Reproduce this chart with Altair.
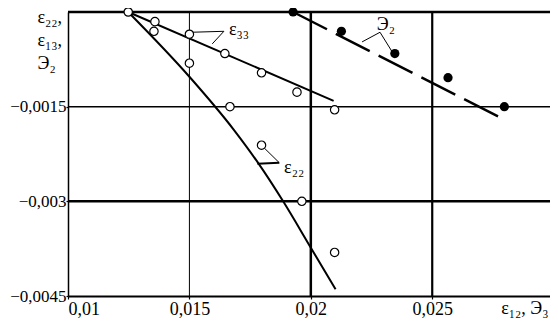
import altair as alt
import pandas as pd

# ---- data ----
# open circles, epsilon_33 series (first point shared with epsilon_22)
e33_x = [0.01248, 0.01358, 0.01500, 0.01646, 0.01797, 0.01943, 0.02098]
e33_y = [0.0, -0.000153, -0.000352, -0.000658, -0.000964, -0.00127, -0.00155]
# open circles, epsilon_22 series
e22_x = [0.01354, 0.01500, 0.01667, 0.01797, 0.01963, 0.02098]
e22_y = [-0.000306, -0.000811, -0.0015, -0.00211, -0.003, -0.00381]
# filled circles, E2 series
E2_x = [0.01927, 0.02126, 0.02346, 0.02565, 0.02797]
E2_y = [0.0, -0.000306, -0.000658, -0.00104, -0.0015]

# fitted curves
e33_fit_x = [0.01248, 0.02094]
e33_fit_y = [0.0, -0.001408]
e22_fit_x = [0.01248, 0.01500, 0.01683, 0.01785, 0.01886, 0.02000, 0.02102]
e22_fit_y = [0.0, -0.001026, -0.001867, -0.002403, -0.003000, -0.003735, -0.004393]
E2_fit_x = [0.01927, 0.02801]
E2_fit_y = [0.0, -0.001714]

# annotation leaders (polyline vertices) and labels
lead_e33_x = [0.01500, 0.01642, 0.01594]
lead_e33_y = [-0.000322, -0.000306, -0.000505]
lead_e22a_x = [0.01809, 0.01870]
lead_e22a_y = [-0.002158, -0.002388]
lead_e22b_x = [0.01780, 0.01870]
lead_e22b_y = [-0.002403, -0.002388]
lead_E2_x = [0.02211, 0.02285, 0.02337]
lead_E2_y = [-0.000474, -0.000321, -0.000643]
labels = ["ε₃₃", "ε₂₂", "Э₂"]
label_x = [0.01663, 0.01890, 0.02272]
label_y = [-0.000291, -0.002464, -0.000199]

# grid / frame
vgrid_x = [0.015, 0.02, 0.025]
vgrid_w = [1.0, 2.5, 2.2]
hgrid_y = [0.0, -0.0015, -0.003]
hgrid_w = [2.5, 1.5, 2.5]

x_ticks = [0.01, 0.015, 0.02, 0.025]
y_ticks = [-0.0015, -0.003, -0.0045]

FONT = "Liberation Serif, Times New Roman, serif"

xs = alt.Scale(domain=[0.01, 0.02985], nice=False, zero=False)
ys = alt.Scale(domain=[-0.0045, 0.0], nice=False, zero=False)

x_axis = alt.Axis(
    values=x_ticks, grid=False, tickSize=3, tickWidth=1.2, tickColor="black",
    domainColor="black", domainWidth=2, labelPadding=1,
    labelExpr="replace(format(datum.value, '.3~f'), '.', ',')",
    labelFlush=True, labelFontSize=18, labelColor="black", labelFont=FONT,
    title="ε₁₂, Э₃", titleFontSize=18, titleFontWeight="normal", titleFont=FONT,
    titleAlign="right", titleBaseline="alphabetic", titleX=480, titleY=17,
    titleColor="black")
y_axis = alt.Axis(
    values=y_ticks, grid=False, tickSize=2, tickWidth=1.2, tickColor="black",
    domainColor="black", domainWidth=1.5, labelPadding=0,
    labelExpr="replace(format(datum.value, '.4~f'), '.', ',')",
    labelFontSize=17, labelColor="black", labelFont=FONT,
    title=["ε₂₂,", "ε₁₃,", "Э₂"], titleAngle=0, titleAlign="left",
    titleBaseline="top", titleX=-31, titleY=-4, titleFontSize=18,
    titleLineHeight=23, titleFontWeight="normal", titleFont=FONT,
    titleColor="black")

X = alt.X("x:Q", scale=xs, axis=x_axis)
Y = alt.Y("y:Q", scale=ys, axis=y_axis)

def df(xv, yv, **extra):
    d = pd.DataFrame({"x": xv, "y": yv})
    for k, v in extra.items():
        d[k] = v
    return d

vgrid = alt.Chart(pd.DataFrame({"x": vgrid_x, "w": vgrid_w})).mark_rule(color="black").encode(
    x=X, strokeWidth=alt.StrokeWidth("w:Q", scale=None))
hgrid = alt.Chart(pd.DataFrame({"y": hgrid_y, "w": hgrid_w})).mark_rule(color="black").encode(
    y=Y, strokeWidth=alt.StrokeWidth("w:Q", scale=None))

line_e33 = alt.Chart(df(e33_fit_x, e33_fit_y)).mark_line(color="black", strokeWidth=2).encode(x=X, y=Y)
line_e22 = alt.Chart(df(e22_fit_x, e22_fit_y)).mark_line(color="black", strokeWidth=2, interpolate="monotone").encode(x=X, y=Y)
line_E2 = alt.Chart(df(E2_fit_x, E2_fit_y)).mark_line(color="black", strokeWidth=2.5, strokeDash=[38, 10]).encode(x=X, y=Y)

def leader(xv, yv, w=1.0):
    d = df(xv, yv, o=list(range(len(xv))))
    return alt.Chart(d).mark_line(color="black", strokeWidth=w).encode(x=X, y=Y, order="o:Q")

leaders = (leader(lead_e33_x, lead_e33_y) + leader(lead_e22a_x, lead_e22a_y)
           + leader(lead_e22b_x, lead_e22b_y, 2.0) + leader(lead_E2_x, lead_E2_y))

open_pts = alt.Chart(df(e33_x + e22_x, e33_y + e22_y)).mark_point(
    shape="circle", filled=False, color="black", fill="white", fillOpacity=1,
    strokeWidth=1.2, size=70, opacity=1).encode(x=X, y=Y)
filled_pts = alt.Chart(df(E2_x, E2_y)).mark_point(
    shape="circle", filled=True, color="black", size=85, opacity=1).encode(x=X, y=Y)

text = alt.Chart(pd.DataFrame({"x": label_x, "y": label_y, "t": labels})).mark_text(
    align="left", baseline="middle", font=FONT, fontSize=18, color="black").encode(
    x=X, y=Y, text="t:N")

chart = alt.layer(
    line_e33, vgrid, hgrid, line_e22, line_E2, leaders, open_pts, filled_pts, text
).properties(
    width=482, height=284,
    autosize=alt.AutoSizeParams(type="none"),
    padding={"left": 60, "top": 4, "right": 0, "bottom": 22},
).configure_view(stroke=None).configure(font=FONT)

chart.save("out.html", embed_options={"renderer": "svg", "actions": False})
